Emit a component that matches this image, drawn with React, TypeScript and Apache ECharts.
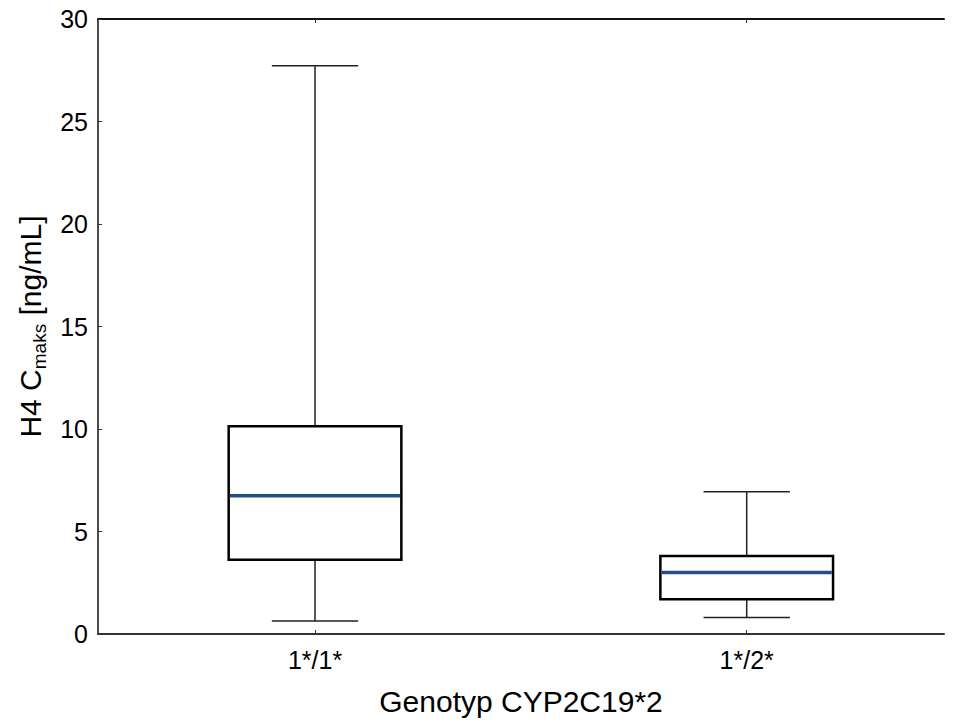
import React, { useEffect, useRef } from "react";
import * as echarts from "echarts";

const categories = ["1*/1*", "1*/2*"];
const categoryPositions = [0, 1];
// [min, q1, median, q3, max]
const boxStats = [
  [0.64, 3.62, 6.75, 10.13, 27.72],
  [0.81, 1.7, 3.0, 3.8, 6.94],
];
const xRange = { min: -0.5027, max: 1.457 };
const yTicks = { min: 0, max: 30, interval: 5 };
const xAxisName = "Genotyp CYP2C19*2";

const FONT = "Liberation Sans, Arial, sans-serif";

export default function App() {
  const ref = useRef<HTMLDivElement>(null);
  useEffect(() => {
    if (!ref.current) return;
    const chart = echarts.init(ref.current, null, { renderer: "svg" });
    const data = boxStats.map((s, i) => [categoryPositions[i], ...s]);
    const xCommon = {
      type: "value",
      min: xRange.min,
      max: xRange.max,
      splitLine: { show: false },
      axisTick: {
        show: true,
        inside: true,
        length: 4,
        customValues: categoryPositions,
        lineStyle: { color: "#333" },
      },
    };
    chart.setOption({
      animation: false,
      backgroundColor: "#ffffff",
      grid: { left: 98, top: 19, width: 846, height: 615, outerBoundsMode: "none", containLabel: false },
      xAxis: [
        {
          ...xCommon,
          position: "bottom",
          name: xAxisName,
          nameLocation: "middle",
          nameGap: 52,
          nameTextStyle: { fontSize: 30, color: "#000", fontFamily: FONT },
          axisLine: { show: true, onZero: false, lineStyle: { color: "#333", width: 2 } },
          axisLabel: {
            fontSize: 25,
            color: "#000",
            fontFamily: FONT,
            margin: 13,
            customValues: categoryPositions,
            formatter: (v: number) => categories[Math.round(v)] ?? "",
          },
        },
        {
          ...xCommon,
          position: "top",
          axisLine: { show: true, onZero: false, lineStyle: { color: "#111", width: 2 } },
          axisLabel: { show: false },
        },
      ],
      yAxis: {
        type: "value",
        min: yTicks.min,
        max: yTicks.max,
        interval: yTicks.interval,
        name: "{m|H4 C}{s|maks}{m| [ng/mL]}",
        nameLocation: "middle",
        nameGap: 48,
        nameRotate: 90,
        nameTextStyle: {
          fontSize: 30,
          color: "#000",
          fontFamily: FONT,
          rich: {
            m: { fontSize: 30, color: "#000", fontFamily: FONT },
            s: { fontSize: 19, color: "#000", fontFamily: FONT, padding: [18, 0, 0, 0] },
          },
        },
        axisLine: { show: true, onZero: false, lineStyle: { color: "#111", width: 1.5 } },
        axisTick: { show: true, inside: true, length: 4, lineStyle: { color: "#333" } },
        axisLabel: { fontSize: 25, color: "#000", fontFamily: FONT, margin: 10 },
        splitLine: { show: false },
      },
      series: [
        {
          type: "custom",
          xAxisIndex: 0,
          encode: { x: 0, y: [1, 2, 3, 4, 5] },
          data,
          renderItem: (params: any, api: any) => {
            const idx = api.value(0);
            const vmin = api.value(1);
            const q1 = api.value(2);
            const med = api.value(3);
            const q3 = api.value(4);
            const vmax = api.value(5);
            const band = api.size([1, 0])[0];
            const boxW = band * 0.4;
            const capW = band * 0.2;
            const pMin = api.coord([idx, vmin]);
            const pQ1 = api.coord([idx, q1]);
            const pMed = api.coord([idx, med]);
            const pQ3 = api.coord([idx, q3]);
            const pMax = api.coord([idx, vmax]);
            const cx = pMed[0];
            const wStyle = { stroke: "#222", lineWidth: 1.5 };
            return {
              type: "group",
              children: [
                { type: "line", shape: { x1: cx, y1: pMax[1], x2: cx, y2: pQ3[1] }, style: wStyle },
                { type: "line", shape: { x1: cx, y1: pQ1[1], x2: cx, y2: pMin[1] }, style: wStyle },
                { type: "line", shape: { x1: cx - capW / 2, y1: pMax[1], x2: cx + capW / 2, y2: pMax[1] }, style: wStyle },
                { type: "line", shape: { x1: cx - capW / 2, y1: pMin[1], x2: cx + capW / 2, y2: pMin[1] }, style: wStyle },
                {
                  type: "rect",
                  shape: { x: cx - boxW / 2, y: pQ3[1], width: boxW, height: pQ1[1] - pQ3[1] },
                  style: { fill: "#fff", stroke: "#000", lineWidth: 2.5 },
                },
                {
                  type: "line",
                  shape: { x1: cx - boxW / 2 + 1.2, y1: pMed[1], x2: cx + boxW / 2 - 1.2, y2: pMed[1] },
                  style: { stroke: "#244f86", lineWidth: 3.5 },
                },
              ],
            };
          },
        },
      ],
    });
    return () => chart.dispose();
  }, []);
  return (
    <div
      ref={ref}
      style={{ position: "fixed", left: 0, top: 0, width: 954, height: 722, background: "#fff" }}
    />
  );
}
